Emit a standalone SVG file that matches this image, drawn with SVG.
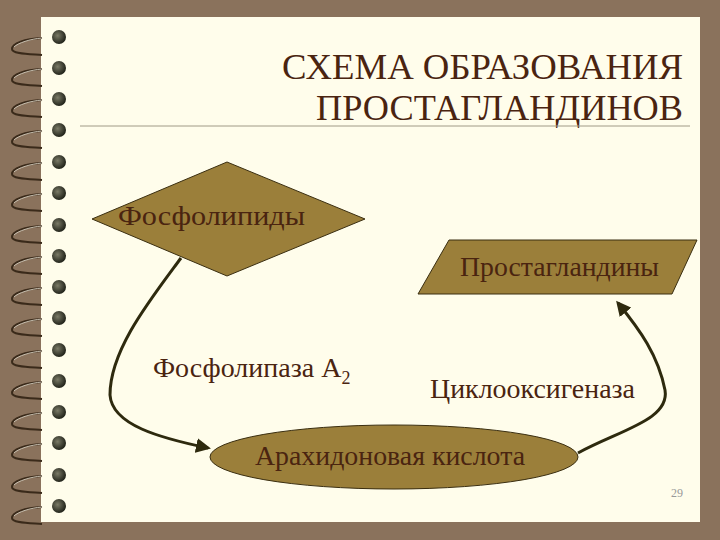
<svg xmlns="http://www.w3.org/2000/svg" width="720" height="540" viewBox="0 0 720 540">
<defs>
<style>
.t{font-family:"Liberation Serif","DejaVu Serif",serif;fill:#4a2410}
.shape{fill:#9b7f3a;stroke:#3a2e10;stroke-width:1}
.c{fill:none;stroke:#2e2a0e;stroke-width:3}
</style>
<marker id="ah" viewBox="0 0 10 10" refX="8" refY="5" markerWidth="5" markerHeight="5" orient="auto"><path d="M0,0L10,5L0,10z" fill="#2e2a0e"/></marker>
<radialGradient id="ball" cx="0.4" cy="0.4" r="0.6"><stop offset="0" stop-color="#7a7a66"/><stop offset="1" stop-color="#22241a"/></radialGradient>
<g id="ring"><path d="M42,3 C25,4 12,8 12,14 C12,19 28,19 42,20" fill="none" stroke="#3a2a1a" stroke-width="2"/><path d="M42,3 C30,4 18,8 14,12" fill="none" stroke="#c8c0b0" stroke-width="1"/><circle cx="59" cy="2" r="7" fill="url(#ball)"/></g>
</defs>
<rect width="720" height="540" fill="#8a725c"/>
<rect x="41" y="17" width="659" height="505" fill="#fffdeb"/>
<g id="rings">
<use href="#ring" y="35"/><use href="#ring" y="66"/><use href="#ring" y="97"/><use href="#ring" y="128"/>
<use href="#ring" y="160"/><use href="#ring" y="191"/><use href="#ring" y="223"/><use href="#ring" y="254"/>
<use href="#ring" y="285"/><use href="#ring" y="316"/><use href="#ring" y="348"/><use href="#ring" y="379"/>
<use href="#ring" y="410"/><use href="#ring" y="441"/><use href="#ring" y="473"/><use href="#ring" y="504"/>
</g>
<g id="title">
<text class="t" x="683" y="79" font-size="36" text-anchor="end" textLength="401" lengthAdjust="spacingAndGlyphs">СХЕМА ОБРАЗОВАНИЯ</text>
<text class="t" x="683" y="120" font-size="36" text-anchor="end" textLength="367" lengthAdjust="spacingAndGlyphs">ПРОСТАГЛАНДИНОВ</text>
<line x1="80" y1="126" x2="690" y2="126" stroke="#a09a86" stroke-width="1"/>
</g>
<g id="connectors">
<path class="c" d="M181,258 C150,300 110,350 110,395 C112,425 160,438 208,448" marker-end="url(#ah)"/>
<path class="c" d="M578,453 C620,430 670,420 665,390 C658,355 640,330 618,303" marker-end="url(#ah)"/>
</g>
<g id="fosfolipidy">
<polygon class="shape" points="92,219 227,162 365,219 227,276"/>
<text class="t" x="118" y="225" font-size="28" textLength="187" lengthAdjust="spacingAndGlyphs">Фосфолипиды</text>
</g>
<g id="prostaglandiny">
<polygon class="shape" points="449,240 697,240 672,294 418,294"/>
<text class="t" x="460" y="276" font-size="28" textLength="199" lengthAdjust="spacingAndGlyphs">Простагландины</text>
</g>
<g id="arakhidonovaya">
<ellipse class="shape" cx="394" cy="457" rx="184" ry="32"/>
<text class="t" x="255" y="465" font-size="28" textLength="270" lengthAdjust="spacingAndGlyphs">Арахидоновая кислота</text>
</g>
<text class="t" x="153" y="377" font-size="28">Фосфолипаза А<tspan font-size="18" dy="7">2</tspan></text>
<text class="t" x="430" y="398" font-size="28" textLength="205" lengthAdjust="spacingAndGlyphs">Циклооксигеназа</text>
<text x="683" y="497" font-size="12" font-family="Liberation Serif,serif" fill="#999" text-anchor="end">29</text>
</svg>
